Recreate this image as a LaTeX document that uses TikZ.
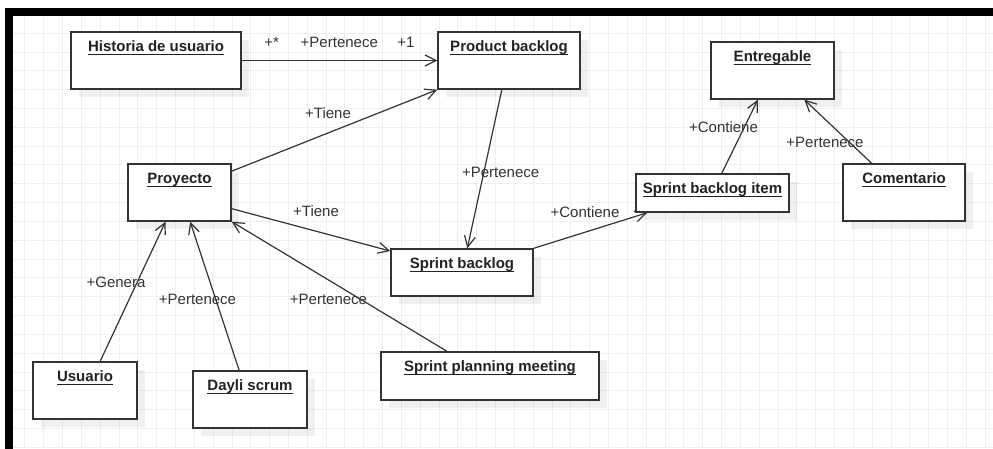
\documentclass[tikz,border=0pt]{standalone}
\usepackage{fontspec}
\setmainfont{Liberation Sans}
\usetikzlibrary{arrows.meta,calc,shadows}
\definecolor{gridc}{HTML}{EFEFEF}
\definecolor{ink}{HTML}{333333}
\definecolor{txt}{HTML}{222222}
% bold class name, underlined at a fixed depth below the baseline
\newcommand\ultitle[1]{\setbox0\hbox{#1}\rlap{\rule[-3.4pt]{\wd0}{1.3pt}}\box0}
\begin{document}
\begin{tikzpicture}[x=1pt,y=-1pt,
  cls/.style={draw=ink, line width=1.4pt, fill=white, inner sep=0pt,
    general shadow={fill=black, opacity=0.06, shadow xshift=8pt, shadow yshift=-8pt}},
  ttl/.style={anchor=base, inner sep=0pt, text=txt, font=\fontsize{15}{18}\selectfont\bfseries},
  lbl/.style={anchor=base, inner sep=0pt, text=ink, font=\fontsize{15}{18}\selectfont},
  assoc/.style={draw=ink, line width=1.2pt, -{Straight Barb[length=11pt,width=11pt,line width=1.2pt]}}]
\useasboundingbox (0,0) rectangle (993,449);
\fill[white] (0,0) rectangle (993,449);

% background grid
\foreach \i in {1,...,52}
  \draw[gridc, line width=0.9pt] ({6+18.83*\i},16) -- ({6+18.83*\i},447.5);
\foreach \j in {1,...,23}
  \draw[gridc, line width=0.9pt] (13,{14.3+18.83*\j}) -- (993,{14.3+18.83*\j});

% frame
\fill[black] (5,8) rectangle (993,16);
\fill[black] (5,8) rectangle (13,449);

% classes
\node[cls, minimum width=170pt, minimum height=57pt] (hist) at (156,60.5) {};
\node[cls, minimum width=142pt, minimum height=57pt] (prod) at (509,60.5) {};
\node[cls, minimum width=123pt, minimum height=57pt] (entr) at (772.5,70.5) {};
\node[cls, minimum width=103pt, minimum height=57pt] (proj) at (179.5,192.5) {};
\node[cls, minimum width=142pt, minimum height=47pt] (sb)   at (462,272.5) {};
\node[cls, minimum width=153pt, minimum height=38pt] (sbi)  at (712.5,193) {};
\node[cls, minimum width=122pt, minimum height=57pt] (com)  at (904,192.5) {};
\node[cls, minimum width=104pt, minimum height=57pt] (usu)  at (85,390.5) {};
\node[cls, minimum width=114pt, minimum height=57pt] (day)  at (250,399.5) {};
\node[cls, minimum width=218pt, minimum height=48pt] (spm)  at (490,376) {};

% class names
\node[ttl] (hist-t) at ($(hist.north)+(0,20.5)$) {\ultitle{Historia de usuario}};
\node[ttl] (prod-t) at ($(prod.north)+(0,20.5)$) {\ultitle{Product backlog}};
\node[ttl] (entr-t) at ($(entr.north)+(0,20.5)$) {\ultitle{Entregable}};
\node[ttl] (proj-t) at ($(proj.north)+(0,20.5)$) {\ultitle{Proyecto}};
\node[ttl] (sb-t)   at ($(sb.north)+(0,20.5)$)   {\ultitle{Sprint backlog}};
\node[ttl] (sbi-t)  at ($(sbi.north)+(0,20.5)$)  {\ultitle{Sprint backlog item}};
\node[ttl] (com-t)  at ($(com.north)+(0,20.5)$)  {\ultitle{Comentario}};
\node[ttl] (usu-t)  at ($(usu.north)+(0,20.5)$)  {\ultitle{Usuario}};
\node[ttl] (day-t)  at ($(day.north)+(0,20.5)$)  {\ultitle{Dayli scrum}};
\node[ttl] (spm-t)  at ($(spm.north)+(0,20.5)$)  {\ultitle{Sprint planning meeting}};

% associations
\draw[assoc] (hist.east) -- (prod.west);
\draw[assoc] ($(proj.north east)!0.135!(proj.south east)$) -- (prod.south west);
\draw[assoc] ($(proj.north east)!0.777!(proj.south east)$) -- ($(sb.north west)!0.057!(sb.south west)$);
\draw[assoc] ($(prod.south west)!0.45!(prod.south east)$) -- ($(sb.north west)!0.537!(sb.north east)$);
\draw[assoc] (sb.north east) -- ($(sbi.south west)!0.078!(sbi.south east)$);
\draw[assoc] ($(sbi.north west)!0.56!(sbi.north east)$) -- ($(entr.south west)!0.382!(entr.south east)$);
\draw[assoc] ($(com.north west)!0.238!(com.north east)$) -- ($(entr.south west)!0.756!(entr.south east)$);
\draw[assoc] ($(usu.north west)!0.644!(usu.north east)$) -- ($(proj.south west)!0.366!(proj.south east)$);
\draw[assoc] ($(day.north west)!0.406!(day.north east)$) -- ($(proj.south west)!0.602!(proj.south east)$);
\draw[assoc] ($(spm.north west)!0.304!(spm.north east)$) -- (proj.south east);

% role names and multiplicities
\node[lbl] (m1)  at (271.7,47.7) {+*};
\node[lbl] (r1)  at (339.3,47.7) {+Pertenece};
\node[lbl] (m2)  at (405.8,47.7) {+1};
\node[lbl] (r2)  at (328,118.5) {+Tiene};
\node[lbl] (r3)  at (316,217) {+Tiene};
\node[lbl] (r4)  at (500.7,177.5) {+Pertenece};
\node[lbl] (r5)  at (585,217.5) {+Contiene};
\node[lbl] (r6)  at (723.5,132.5) {+Contiene};
\node[lbl] (r7)  at (825,147.5) {+Pertenece};
\node[lbl] (r8)  at (116,287.5) {+Genera};
\node[lbl] (r9)  at (197.5,304) {+Pertenece};
\node[lbl] (r10) at (328.5,304) {+Pertenece};
\end{tikzpicture}
\end{document}
